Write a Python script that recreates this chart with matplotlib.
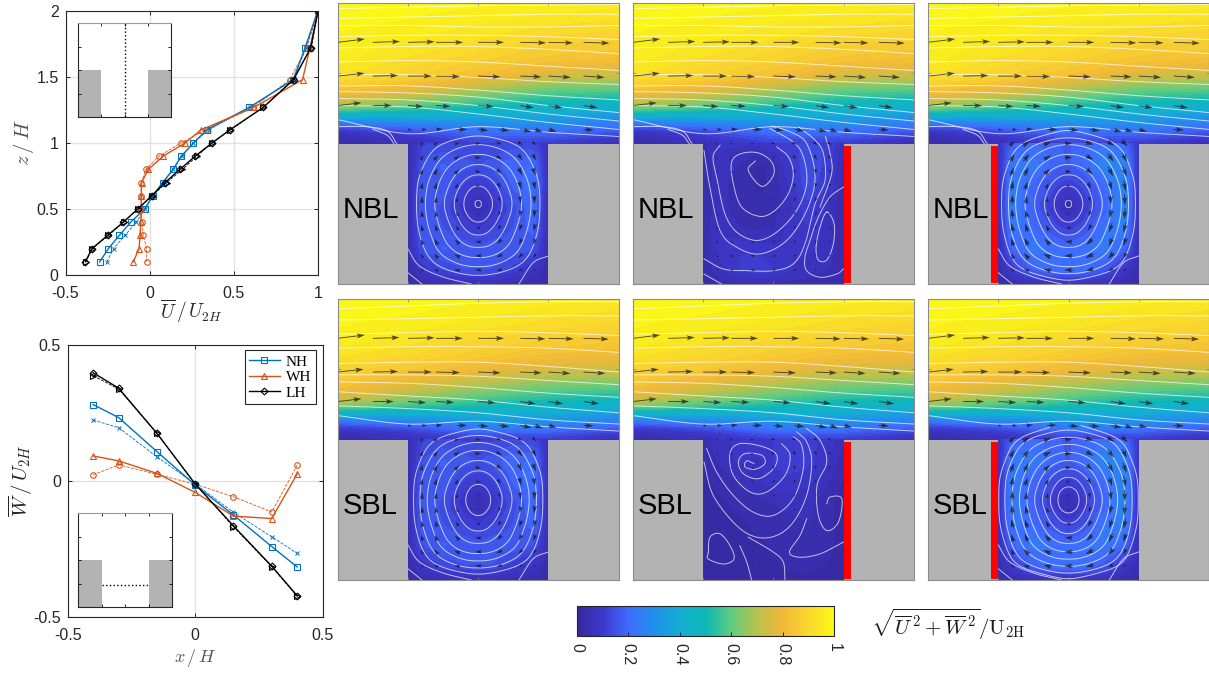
import numpy as np
import matplotlib
matplotlib.use('Agg')
import matplotlib.pyplot as plt
from matplotlib.colors import LinearSegmentedColormap
from matplotlib.patches import Rectangle

plt.rcParams['font.family'] = ['Liberation Sans', 'DejaVu Sans']
plt.rcParams['mathtext.fontset'] = 'cm'

W_PX, H_PX = 1209, 673

# ---- profiles ----
z_prof = [0.1, 0.2, 0.3, 0.4, 0.5, 0.6, 0.7, 0.8, 0.9, 1.0, 1.1, 1.27, 1.48, 1.72, 2.0]
u_nh = [-0.297, -0.245, -0.18, -0.113, -0.03, 0.018, 0.077, 0.139, 0.188, 0.26, 0.339, 0.592, 0.853, 0.923, 0.998]
u_nh_s = [-0.255, -0.214, -0.147, -0.08, -0.028, 0.02, 0.08, 0.14, 0.19, 0.26, 0.35, 0.595, 0.85, 0.93, 1.0]
u_wh = [-0.097, -0.063, -0.057, -0.053, -0.05, -0.05, -0.048, -0.008, 0.08, 0.21, 0.305, 0.62, 0.908, 0.952, 1.0]
u_wh_s = [-0.018, -0.018, -0.038, -0.045, -0.05, -0.05, -0.05, -0.022, 0.055, 0.186, 0.333, 0.616, 0.832, 0.932, 1.0]
u_lh = [-0.382, -0.343, -0.25, -0.157, -0.071, 0.012, 0.091, 0.18, 0.27, 0.37, 0.477, 0.675, 0.855, 0.956, 1.0]
u_lh_s = [-0.38, -0.34, -0.245, -0.155, -0.07, 0.015, 0.1, 0.195, 0.28, 0.37, 0.48, 0.675, 0.85, 0.96, 1.0]

x_prof = [-0.4, -0.3, -0.15, 0, 0.15, 0.3, 0.4]
w_nh = [0.281, 0.233, 0.108, -0.015, -0.125, -0.241, -0.316]
w_nh_s = [0.224, 0.196, 0.089, -0.011, -0.115, -0.205, -0.266]
w_wh = [0.092, 0.074, 0.028, -0.042, -0.129, -0.138, 0.026]
w_wh_s = [0.023, 0.059, 0.025, -0.012, -0.058, -0.114, 0.058]
w_lh = [0.398, 0.341, 0.175, -0.011, -0.165, -0.313, -0.422]
w_lh_s = [0.387, 0.338, 0.175, -0.011, -0.168, -0.315, -0.424]

# ---- speed above the roof ----
x_top = [-1, -0.5, 0, 0.5, 1]
z_top = [1.0, 1.05, 1.1, 1.2, 1.27, 1.38, 1.48, 1.6, 1.72, 1.85, 2.0]
speed_top_nbl = [
    [0.03, 0.05, 0.11, 0.10, 0.05],
    [0.04, 0.09, 0.17, 0.16, 0.10],
    [0.09, 0.15, 0.23, 0.23, 0.18],
    [0.42, 0.42, 0.40, 0.38, 0.32],
    [0.68, 0.60, 0.52, 0.47, 0.44],
    [0.84, 0.78, 0.68, 0.60, 0.58],
    [0.93, 0.88, 0.82, 0.74, 0.72],
    [0.96, 0.92, 0.88, 0.84, 0.82],
    [0.97, 0.95, 0.92, 0.88, 0.87],
    [0.98, 0.97, 0.95, 0.93, 0.91],
    [1.00, 0.99, 0.98, 0.97, 0.96],
]
speed_top_sbl = [
    [0.03, 0.05, 0.10, 0.10, 0.05],
    [0.05, 0.09, 0.18, 0.17, 0.11],
    [0.12, 0.18, 0.26, 0.26, 0.20],
    [0.50, 0.46, 0.44, 0.42, 0.36],
    [0.72, 0.62, 0.55, 0.50, 0.47],
    [0.84, 0.76, 0.68, 0.62, 0.60],
    [0.88, 0.84, 0.78, 0.73, 0.72],
    [0.93, 0.90, 0.86, 0.82, 0.80],
    [0.97, 0.94, 0.90, 0.88, 0.86],
    [0.98, 0.97, 0.95, 0.92, 0.90],
    [1.00, 0.99, 0.98, 0.96, 0.95],
]

# ---- speed inside the canyon ----
x_can = [-0.5, -0.4, -0.25, -0.1, 0, 0.1, 0.25, 0.4, 0.5]
z_can = [0, 0.1, 0.25, 0.4, 0.55, 0.7, 0.85, 1.0]
speed_nh = [
    [0.02, 0.03, 0.04, 0.04, 0.04, 0.04, 0.04, 0.03, 0.02],
    [0.03, 0.08, 0.13, 0.15, 0.15, 0.15, 0.11, 0.07, 0.03],
    [0.03, 0.15, 0.18, 0.17, 0.16, 0.17, 0.17, 0.15, 0.03],
    [0.03, 0.17, 0.15, 0.12, 0.10, 0.12, 0.15, 0.19, 0.04],
    [0.03, 0.18, 0.14, 0.08, 0.03, 0.08, 0.14, 0.20, 0.04],
    [0.03, 0.17, 0.17, 0.12, 0.10, 0.12, 0.18, 0.22, 0.05],
    [0.03, 0.15, 0.18, 0.16, 0.15, 0.16, 0.20, 0.20, 0.05],
    [0.04, 0.12, 0.13, 0.12, 0.12, 0.12, 0.13, 0.13, 0.06],
]
speed_wall_right = [
    [0.02, 0.03, 0.04, 0.04, 0.04, 0.04, 0.04, 0.03, 0.02],
    [0.03, 0.06, 0.10, 0.12, 0.10, 0.08, 0.06, 0.05, 0.03],
    [0.03, 0.08, 0.10, 0.09, 0.08, 0.08, 0.08, 0.06, 0.03],
    [0.03, 0.07, 0.05, 0.04, 0.05, 0.08, 0.10, 0.06, 0.03],
    [0.03, 0.06, 0.04, 0.03, 0.03, 0.06, 0.12, 0.06, 0.03],
    [0.03, 0.06, 0.04, 0.02, 0.03, 0.07, 0.15, 0.09, 0.03],
    [0.03, 0.06, 0.05, 0.02, 0.03, 0.09, 0.15, 0.11, 0.04],
    [0.04, 0.08, 0.08, 0.08, 0.10, 0.12, 0.13, 0.12, 0.06],
]
speed_lh = [
    [0.02, 0.03, 0.05, 0.05, 0.05, 0.05, 0.05, 0.03, 0.02],
    [0.03, 0.10, 0.18, 0.22, 0.22, 0.22, 0.16, 0.08, 0.03],
    [0.04, 0.19, 0.24, 0.22, 0.20, 0.22, 0.24, 0.19, 0.04],
    [0.05, 0.24, 0.20, 0.14, 0.11, 0.14, 0.22, 0.26, 0.05],
    [0.05, 0.26, 0.17, 0.09, 0.03, 0.09, 0.18, 0.28, 0.05],
    [0.05, 0.25, 0.19, 0.13, 0.10, 0.13, 0.20, 0.28, 0.06],
    [0.05, 0.24, 0.24, 0.19, 0.17, 0.20, 0.27, 0.27, 0.07],
    [0.07, 0.18, 0.20, 0.18, 0.17, 0.19, 0.22, 0.20, 0.08],
]
speed_wall_right_s = [
    [0.01, 0.01, 0.01, 0.01, 0.01, 0.01, 0.01, 0.01, 0.01],
    [0.01, 0.02, 0.02, 0.02, 0.02, 0.03, 0.04, 0.02, 0.01],
    [0.01, 0.02, 0.02, 0.02, 0.03, 0.04, 0.05, 0.03, 0.01],
    [0.01, 0.02, 0.02, 0.03, 0.03, 0.04, 0.05, 0.03, 0.01],
    [0.01, 0.02, 0.03, 0.04, 0.05, 0.06, 0.06, 0.03, 0.01],
    [0.02, 0.03, 0.05, 0.07, 0.09, 0.09, 0.08, 0.05, 0.02],
    [0.02, 0.05, 0.08, 0.07, 0.10, 0.12, 0.11, 0.07, 0.03],
    [0.04, 0.07, 0.08, 0.09, 0.10, 0.11, 0.11, 0.09, 0.05],
]

# ---- stream function tables, loop number counted from the vortex centre ----
z_psi = [0, 0.1, 0.25, 0.42, 0.57, 0.72, 0.85, 1.0, 1.1]
psi_vortex = [
    [9.5, 9.0, 8.6, 8.2, 8.0, 8.2, 8.6, 9.0, 9.5],
    [8.6, 7.9, 7.1, 6.4, 6.3, 6.4, 7.1, 7.9, 8.6],
    [8.2, 7.2, 5.4, 4.2, 4.0, 4.2, 5.4, 7.2, 8.2],
    [8.0, 6.5, 4.6, 2.7, 2.0, 2.7, 4.6, 6.5, 8.0],
    [8.0, 6.3, 4.0, 1.8, 0.0, 1.8, 4.0, 6.3, 8.0],
    [8.0, 6.5, 4.6, 2.7, 2.0, 2.7, 4.6, 6.5, 8.0],
    [8.2, 7.2, 5.4, 4.2, 3.9, 4.2, 5.4, 7.2, 8.2],
    [8.6, 7.9, 6.9, 6.2, 6.0, 6.2, 6.9, 7.9, 8.6],
    [9.5, 9.0, 8.5, 8.0, 7.8, 8.0, 8.5, 9.0, 9.5],
]
psi_wake = [
    [6.0, 6.0, 6.0, 6.0, 6.0, 6.0, 6.0, 6.2, 6.4],
    [5.5, 5.2, 5.0, 4.8, 4.8, 5.0, 5.5, 6.4, 6.5],
    [5.0, 4.5, 3.8, 3.4, 3.5, 4.0, 5.2, 7.0, 6.6],
    [5.0, 4.0, 3.0, 2.3, 2.5, 3.2, 5.0, 6.8, 6.4],
    [5.0, 3.8, 2.2, 1.4, 1.5, 2.6, 4.5, 5.8, 6.0],
    [5.0, 3.5, 1.5, 0.6, 0.8, 2.0, 4.2, 5.5, 5.8],
    [5.0, 3.5, 1.2, 0.0, 0.6, 2.0, 4.2, 5.5, 5.8],
    [5.5, 4.5, 3.0, 2.5, 2.8, 3.6, 5.0, 6.0, 6.2],
    [7.0, 6.8, 6.5, 6.2, 6.3, 6.5, 6.8, 7.0, 7.2],
]
levels_nh_n = [1, 2, 3, 4, 5, 6, 7]
levels_lh_n = [1, 2, 3, 4, 5, 6, 6.8, 7.5]
levels_nh_s = [0.8, 1.8, 3, 4, 5, 5.8, 6.6, 7.3]
levels_lh_s = [0.9, 1.6, 2.4, 3.2, 4, 4.8, 5.6, 6.4, 7.2, 7.7]

# ---- streamlines above the roof, height at x_top ----
lines_top_nbl = [
    [1.96, 1.97, 1.98, 1.985, 1.99],
    [1.89, 1.90, 1.91, 1.92, 1.92],
    [1.84, 1.84, 1.83, 1.83, 1.84],
    [1.76, 1.77, 1.77, 1.76, 1.74],
    [1.68, 1.69, 1.69, 1.67, 1.64],
    [1.58, 1.59, 1.58, 1.55, 1.52],
    [1.49, 1.49, 1.47, 1.44, 1.42],
    [1.41, 1.41, 1.38, 1.34, 1.31],
    [1.37, 1.36, 1.33, 1.27, 1.22],
    [1.32, 1.31, 1.27, 1.21, 1.16],
    [1.27, 1.26, 1.21, 1.15, 1.10],
    [1.17, 1.07, 1.12, 1.08, 1.05],
]
lines_top_sbl = [
    [1.93, 1.95, 1.97, 1.98, 1.98],
    [1.85, 1.86, 1.87, 1.88, 1.88],
    [1.75, 1.76, 1.77, 1.76, 1.74],
    [1.65, 1.66, 1.66, 1.65, 1.62],
    [1.54, 1.55, 1.55, 1.52, 1.48],
    [1.46, 1.46, 1.45, 1.42, 1.39],
    [1.41, 1.40, 1.37, 1.33, 1.30],
    [1.34, 1.31, 1.28, 1.23, 1.19],
    [1.24, 1.22, 1.19, 1.14, 1.11],
    [1.17, 1.11, 1.13, 1.09, 1.06],
]

# short lines running into the roofs and the lower canyon corners
corner_lines = [
    [(-1, 1.12), (-0.8, 1.12), (-0.65, 1.09), (-0.58, 1.0)],
    [(-0.75, 1.1), (-0.65, 1.06), (-0.6, 1.0)],
    [(-0.5, 0.25), (-0.42, 0.13), (-0.25, 0.05), (-0.05, 0.0)],
    [(-0.5, 0.08), (-0.4, 0.0)],
    [(0.5, 0.2), (0.39, 0.15), (0.29, 0.0)],
]

# streamlines of the two wake panels
stream_wake_n = [
    [(-0.13, 0.876), (-0.18, 0.81), (-0.084, 0.695), (0, 0.774), (-0.013, 0.869), (-0.108, 0.933), (-0.227, 0.929),
     (-0.298, 0.869), (-0.286, 0.714), (-0.227, 0.548), (-0.096, 0.481), (0.011, 0.524), (0.106, 0.643),
     (0.141, 0.786), (0.106, 0.905), (0.023, 0.976)],
    [(-0.38, 0.988), (-0.43, 0.905), (-0.4, 0.738), (-0.346, 0.5), (-0.262, 0.369), (-0.12, 0.31), (0.023, 0.369),
     (0.165, 0.524), (0.236, 0.714), (0.213, 0.905), (0.141, 1.01), (-0.025, 1.107)],
    [(-0.495, 0.95), (-0.453, 0.69), (-0.38, 0.38), (-0.262, 0.262), (-0.096, 0.214), (0.094, 0.31), (0.236, 0.524),
     (0.296, 0.762), (0.236, 1.0), (0.118, 1.083), (-0.013, 1.124)],
    [(-0.495, 0.179), (-0.357, 0.107), (-0.191, 0.095), (0, 0.095), (0.141, 0.143), (0.224, 0.286), (0.296, 0.571),
     (0.367, 0.738), (0.355, 0.929), (0.296, 1.024), (0.177, 1.119)],
    [(-0.495, 0.071), (-0.37, 0)],
    [(0.497, 0.69), (0.402, 0.619), (0.319, 0.476), (0.26, 0.31), (0.224, 0.19), (0.236, 0.095), (0.331, 0.048),
     (0.45, 0.071), (0.497, 0.107)],
    [(0.37, 1.05), (0.402, 0.929), (0.414, 0.786), (0.331, 0.548)],
]
oval_wake_n = [(0.379, 0.512), (0.431, 0.429), (0.426, 0.286), (0.379, 0.171), (0.319, 0.171), (0.303, 0.262), (0.331, 0.405)]
stream_wake_s = [
    [(-0.139, 0.829), (-0.191, 0.848), (-0.203, 0.805), (-0.132, 0.788), (-0.061, 0.829), (-0.084, 0.888),
     (-0.203, 0.9), (-0.25, 0.84), (-0.215, 0.757), (-0.108, 0.721), (0, 0.793), (0.023, 0.888), (-0.072, 0.948),
     (-0.239, 0.971), (-0.31, 0.9), (-0.286, 0.745), (-0.167, 0.626), (-0.049, 0.626), (0.082, 0.745),
     (0.118, 0.888), (0.058, 0.971)],
    [(-0.476, 0.936), (-0.405, 0.769), (-0.286, 0.602), (-0.144, 0.483), (0, 0.46), (0.141, 0.579), (0.212, 0.793),
     (0.2, 0.96), (0.141, 1.02)],
    [(-0.495, 0.84), (-0.429, 0.602), (-0.263, 0.388), (-0.12, 0.305), (0.022, 0.317), (0.141, 0.412),
     (0.236, 0.602), (0.272, 0.84), (0.236, 0.983), (0.165, 1.055)],
    [(-0.18, 0.305), (0, 0.198), (0.07, 0.126), (0.082, 0)],
    [(-0.24, 0.245), (-0.19, 0.126), (-0.156, 0)],
    [(0.236, 0.436), (0.189, 0.317), (0.113, 0.198), (0.189, 0.162), (0.331, 0.186), (0.497, 0.269)],
    [(0.379, 0.543), (0.402, 0.59), (0.486, 0.579), (0.462, 0.412), (0.379, 0.352), (0.319, 0.46), (0.31, 0.674),
     (0.379, 0.84), (0.331, 0.995), (0.236, 1.079)],
]
oval_wake_s = [(-0.464, 0.198), (-0.452, 0.305), (-0.381, 0.329), (-0.31, 0.245), (-0.281, 0.15), (-0.357, 0.114), (-0.464, 0.15)]

# ---- arrows above the canyon ----
x_arrow = [-1, -0.75, -0.5, -0.3, 0, 0.3, 0.5, 0.75]
z_arrow = [1.27, 1.48, 1.72, 1.995]
u_arrow_nbl = [
    [0.85, 0.68, 0.55, 0.52, 0.56, 0.48, 0.50, 0.50],
    [0.96, 0.90, 0.85, 0.85, 0.80, 0.75, 0.80, 0.75],
    [0.97, 0.97, 0.95, 0.97, 0.92, 0.92, 0.88, 0.92],
    [0.98, 0.98, 0.97, 0.97, 0.96, 0.96, 0.95, 0.95],
]
u_arrow_sbl = [
    [0.85, 0.75, 0.65, 0.65, 0.62, 0.55, 0.52, 0.55],
    [0.92, 0.90, 0.85, 0.85, 0.80, 0.76, 0.78, 0.78],
    [0.97, 0.95, 0.95, 0.95, 0.92, 0.90, 0.90, 0.90],
    [0.98, 0.98, 0.97, 0.97, 0.96, 0.96, 0.95, 0.95],
]
w_arrow = [
    [0.10, 0.00, -0.04, -0.03, -0.04, -0.08, -0.08, -0.08],
    [0.10, 0.02, 0.00, -0.02, -0.03, -0.03, -0.05, -0.05],
    [0.12, 0.03, 0.02, 0.00, 0.00, -0.02, -0.02, -0.03],
    [0.12, 0.10, 0.10, 0.10, 0.10, 0.10, 0.10, 0.10],
]
x_arrow_low = [-0.5, -0.4, -0.3, -0.15, 0, 0.15, 0.3, 0.4, 0.5, 0.75]
z_arrow_low = 1.1
u_arrow_low = [0.14, 0.18, 0.24, 0.36, 0.36, 0.36, 0.40, 0.30, 0.30, 0.36]
w_arrow_low = [-0.02, 0.0, 0.02, 0.0, -0.04, -0.05, -0.08, -0.10, -0.08, -0.02]
x_arrow_can = [-0.4, -0.3, -0.15, 0, 0.15, 0.3, 0.4]
z_arrow_can = [0.1, 0.2, 0.3, 0.4, 0.5, 0.6, 0.7, 0.8, 0.9, 1.0]

# ---- colour scale, sampled off the colorbar ----
cmap_stops = [(0.21, 0.16, 0.62), (0.24, 0.22, 0.80), (0.25, 0.42, 1.00), (0.13, 0.56, 0.92), (0.08, 0.68, 0.83),
              (0.05, 0.72, 0.72), (0.38, 0.80, 0.50), (0.72, 0.76, 0.30), (0.95, 0.72, 0.22), (0.98, 0.84, 0.18),
              (0.98, 0.98, 0.08)]
cbar_ticks = [0, 0.2, 0.4, 0.6, 0.8, 1]
cbar_labels = ['0', '0.2', '0.4', '0.6', '0.8', '1']

BLUE = '#0072BD'
ORANGE = '#D95319'
GRID = '#e2e2e2'
BUILDING = '#b3b3b3'
DARK = '#262626'
cmap = LinearSegmentedColormap.from_list('flow', cmap_stops)


def px_axes(fig, left, top, right, bottom):
    return fig.add_axes([left / W_PX, 1 - bottom / H_PX, (right - left) / W_PX, (bottom - top) / H_PX])


def fine_grid(table, xs, zs, fx, fz, blur=7):
    rows = np.array([np.interp(fx, xs, r) for r in table])
    g = np.array([np.interp(fz, zs, rows[:, j]) for j in range(len(fx))]).T
    k = np.ones(blur) / blur
    pad = blur // 2
    g = np.pad(g, pad, mode='edge')
    g = np.apply_along_axis(lambda v: np.convolve(v, k, mode='same'), 0, g)
    g = np.apply_along_axis(lambda v: np.convolve(v, k, mode='same'), 1, g)
    return g[pad:-pad, pad:-pad]


def smooth_line(pts, closed=False, n=12):
    # Catmull-Rom through the points
    p = np.array(pts, float)
    if closed:
        p = np.vstack([p[-1], p, p[0], p[1]])
    else:
        p = np.vstack([2 * p[0] - p[1], p, 2 * p[-1] - p[-2]])
    out = []
    t = np.linspace(0, 1, n, endpoint=False)[:, None]
    for i in range(1, len(p) - 2):
        a, b, c, d = p[i - 1:i + 3]
        out.append(0.5 * (2 * b + (c - a) * t + (2 * a - 5 * b + 4 * c - d) * t ** 2 + (3 * b - a - 3 * c + d) * t ** 3))
    out.append(p[-2:-1])
    return np.vstack(out)


def draw_inset(fig, box, vertical):
    ax = px_axes(fig, *box)
    ax.set_xlim(-1, 1)
    ax.set_ylim(0, 2)
    ax.add_patch(Rectangle((-1, 0), 0.5, 1, color=BUILDING, lw=0))
    ax.add_patch(Rectangle((0.5, 0), 0.5, 1, color=BUILDING, lw=0))
    if vertical:
        ax.plot([0, 0], [0, 2], color='k', ls=':', lw=1)
    else:
        ax.plot([-0.5, 0.5], [0.48, 0.48], color='k', ls=':', lw=1)
    ax.set_xticks([-0.5, 0, 0.5])
    ax.set_yticks([0.5, 1, 1.5])
    ax.tick_params(direction='in', length=2, width=0.6, labelleft=False, labelbottom=False, top=True, right=True)
    for s in ax.spines.values():
        s.set_linewidth(0.8)
        s.set_color(DARK)
    ax.spines['top'].set_color('#999999')


def style_profile(ax):
    ax.grid(True, color=GRID, lw=1)
    ax.set_axisbelow(True)
    ax.tick_params(direction='in', length=3, width=0.7, top=True, right=True, labelsize=11.5, colors=DARK)
    ax.tick_params(axis='x', pad=8)
    ax.tick_params(axis='y', pad=5)
    for s in ax.spines.values():
        s.set_linewidth(0.8)
        s.set_color(DARK)


def draw_panel(ax, speed_top, speed_can, psi, levels, lines_top, extra, ovals, u_arrow, label, wall):
    ax.set_xlim(-1, 1)
    ax.set_ylim(0, 2)
    levs = np.linspace(0, 1, 41)

    # colour field, above the roof and in the canyon
    fx = np.arange(-1, 1.001, 0.02)
    fz = np.arange(1, 2.001, 0.01)
    top_field = np.clip(fine_grid(speed_top, x_top, z_top, fx, fz), 0, 1)
    ax.contourf(fx, fz, top_field, levels=levs, cmap=cmap, vmin=0, vmax=1, zorder=1)
    cx = np.arange(-0.5, 0.501, 0.01)
    cz = np.arange(0, 1.001, 0.01)
    can_field = fine_grid(speed_can, x_can, z_can, cx, cz, blur=5)
    ax.contourf(cx, cz, can_field, levels=levs, cmap=cmap, vmin=0, vmax=1, zorder=1)

    # streamlines
    white = dict(color='white', lw=0.7, alpha=0.7, zorder=2)
    for row in lines_top:
        s = smooth_line(list(zip(x_top, row)))
        ax.plot(s[:, 0], s[:, 1], **white)
    pz = np.arange(0, 1.101, 0.01)
    psi_field = fine_grid(psi, x_can, z_psi, cx, pz, blur=13)
    if levels:
        ax.contour(cx, pz, psi_field, levels=levels, colors='white', linewidths=0.7, alpha=0.7, zorder=2)
    for pts in extra:
        s = smooth_line(pts)
        ax.plot(s[:, 0], s[:, 1], **white)
    for pts in ovals:
        s = smooth_line(pts, closed=True)
        ax.plot(s[:, 0], s[:, 1], **white)

    # arrows
    arrow = dict(angles='xy', scale_units='xy', scale=5, units='dots', width=0.9, headwidth=5.5, headlength=9,
                 headaxislength=7.5, color='#1a1a1a', alpha=0.75, zorder=3)
    xa, za = np.meshgrid(x_arrow, z_arrow)
    ax.quiver(xa, za, np.array(u_arrow), np.array(w_arrow), **arrow)
    ax.quiver(x_arrow_low, [z_arrow_low] * len(x_arrow_low), u_arrow_low, w_arrow_low, **arrow)
    dpsi_dz, dpsi_dx = np.gradient(psi_field, pz, cx)
    xs, zs, us, ws = [], [], [], []
    for zq in z_arrow_can:
        for xq in x_arrow_can:
            i = np.abs(cz - zq).argmin()
            j = np.abs(cx - xq).argmin()
            norm = np.hypot(dpsi_dx[i, j], dpsi_dz[i, j]) + 1e-6
            mag = can_field[i, j] * 1.5
            xs.append(xq)
            zs.append(zq)
            us.append(mag * dpsi_dz[i, j] / norm)
            ws.append(-mag * dpsi_dx[i, j] / norm)
    ax.quiver(xs, zs, us, ws, pivot='mid', **arrow)

    # buildings and wall
    ax.add_patch(Rectangle((-1, 0), 0.5, 1, color=BUILDING, lw=0, zorder=4))
    ax.add_patch(Rectangle((0.5, 0), 0.5, 1, color=BUILDING, lw=0, zorder=4))
    if wall == 'right':
        ax.add_patch(Rectangle((0.5, 0.01), 0.055, 0.97, color='#ff0000', lw=0, zorder=5))
    if wall == 'left':
        ax.add_patch(Rectangle((-0.555, 0.01), 0.055, 0.97, color='#ff0000', lw=0, zorder=5))
    ax.text(-0.965, 0.53, label, fontsize=21, color='black', ha='left', va='center', zorder=6)

    ax.set_xticks([-0.5, 0, 0.5])
    ax.set_yticks([0.5, 1, 1.5])
    ax.tick_params(direction='in', length=2, width=0.5, color='#808080', labelleft=False, labelbottom=False,
                   top=True, right=True)
    for s in ax.spines.values():
        s.set_linewidth(0.8)
        s.set_color('#8c8c8c')
        s.set_zorder(7)


fig = plt.figure(figsize=(W_PX / 100, H_PX / 100), dpi=100)
mk = dict(ms=4, mfc='none', mew=0.8)

# top left profile
ax = px_axes(fig, 65.5, 11, 318, 275)
ax.plot(u_nh_s, z_prof, color=BLUE, ls='--', lw=0.6, marker='x', ms=3, mew=0.7)
ax.plot(u_wh_s, z_prof, color=ORANGE, ls='--', lw=0.6, marker='o', **mk)
ax.plot(u_lh_s, z_prof, color='k', ls='--', lw=0.6, marker='>', **mk)
ax.plot(u_nh, z_prof, color=BLUE, lw=1, marker='s', **mk)
ax.plot(u_wh, z_prof, color=ORANGE, lw=1, marker='^', **mk)
ax.plot(u_lh, z_prof, color='k', lw=1, marker='D', ms=3.5, mfc='none', mew=0.8)
ax.set_xlim(-0.5, 1)
ax.set_ylim(0, 2)
ax.set_xticks([-0.5, 0, 0.5, 1])
ax.set_xticklabels(['-0.5', '0', '0.5', '1'])
ax.set_yticks([0, 0.5, 1, 1.5, 2])
ax.set_yticklabels(['0', '0.5', '1', '1.5', '2'])
style_profile(ax)
ax.set_xlabel(r'$\overline{U}\,/\,U_{2H}$', fontsize=14, color=DARK, labelpad=-3)
ax.set_ylabel(r'$z\,/\,H$', fontsize=15, color='#555555', labelpad=0)
draw_inset(fig, (77.7, 23.3, 171.3, 117.3), True)

# bottom left profile
ax = px_axes(fig, 67.7, 345, 322.7, 617)
ax.plot(x_prof, w_nh_s, color=BLUE, ls='--', lw=0.6, marker='x', ms=3, mew=0.7)
ax.plot(x_prof, w_wh_s, color=ORANGE, ls='--', lw=0.6, marker='o', **mk)
ax.plot(x_prof, w_lh_s, color='k', ls='--', lw=0.6, marker='>', **mk)
h1, = ax.plot(x_prof, w_nh, color=BLUE, lw=1, marker='s', label='NH', **mk)
h2, = ax.plot(x_prof, w_wh, color=ORANGE, lw=1, marker='^', label='WH', **mk)
h3, = ax.plot(x_prof, w_lh, color='k', lw=1, marker='D', ms=3.5, mfc='none', mew=0.8, label='LH')
ax.set_xlim(-0.5, 0.5)
ax.set_ylim(-0.5, 0.5)
ax.set_xticks([-0.5, 0, 0.5])
ax.set_xticklabels(['-0.5', '0', '0.5'])
ax.set_yticks([-0.5, 0, 0.5])
ax.set_yticklabels(['-0.5', '0', '0.5'])
style_profile(ax)
ax.set_xlabel(r'$x\,/\,H$', fontsize=13, color='#555555', labelpad=3)
ax.set_ylabel(r'$\overline{W}\,/\,U_{2H}$', fontsize=15, color=DARK, labelpad=-1)
leg = ax.legend(handles=[h1, h2, h3], loc='upper right', bbox_to_anchor=(0.973, 0.98), fancybox=False,
                framealpha=1, edgecolor=DARK, borderaxespad=0, handlelength=2.0, handletextpad=0.4,
                labelspacing=0.12, borderpad=0.3, prop={'family': 'Liberation Serif', 'size': 11})
leg.get_frame().set_linewidth(0.8)
draw_inset(fig, (78.3, 513.3, 172.3, 607.3), False)

# flow field panels
col_px = [(337.7, 618.7), (633, 914), (928, 1209)]
row_px = [(3, 284), (299, 580)]

ax = px_axes(fig, col_px[0][0], row_px[0][0], col_px[0][1], row_px[0][1])
draw_panel(ax, speed_top_nbl, speed_nh, psi_vortex, levels_nh_n, lines_top_nbl, corner_lines, [], u_arrow_nbl, 'NBL', None)
ax = px_axes(fig, col_px[1][0], row_px[0][0], col_px[1][1], row_px[0][1])
draw_panel(ax, speed_top_nbl, speed_wall_right, psi_wake, [], lines_top_nbl, corner_lines[:2] + stream_wake_n, [oval_wake_n],
           u_arrow_nbl, 'NBL', 'right')
ax = px_axes(fig, col_px[2][0], row_px[0][0], col_px[2][1], row_px[0][1])
draw_panel(ax, speed_top_nbl, speed_lh, psi_vortex, levels_lh_n, lines_top_nbl, corner_lines, [], u_arrow_nbl, 'NBL', 'left')
ax = px_axes(fig, col_px[0][0], row_px[1][0], col_px[0][1], row_px[1][1])
draw_panel(ax, speed_top_sbl, speed_nh, psi_vortex, levels_nh_s, lines_top_sbl, corner_lines[2:], [], u_arrow_sbl, 'SBL', None)
ax = px_axes(fig, col_px[1][0], row_px[1][0], col_px[1][1], row_px[1][1])
draw_panel(ax, speed_top_sbl, speed_wall_right_s, psi_wake, [], lines_top_sbl, stream_wake_s, [oval_wake_s], u_arrow_sbl, 'SBL', 'right')
ax = px_axes(fig, col_px[2][0], row_px[1][0], col_px[2][1], row_px[1][1])
draw_panel(ax, speed_top_sbl, speed_lh, psi_vortex, levels_lh_s, lines_top_sbl, corner_lines[2:], [], u_arrow_sbl, 'SBL', 'left')

# colorbar
cax = px_axes(fig, 576.7, 606, 834.3, 635.7)
sm = plt.cm.ScalarMappable(cmap=cmap, norm=plt.Normalize(0, 1))
cb = fig.colorbar(sm, cax=cax, orientation='horizontal')
cb.set_ticks(cbar_ticks)
cb.set_ticklabels(cbar_labels)
cax.tick_params(direction='in', length=3, width=0.7, labelsize=11.5, colors=DARK, labelrotation=-90, pad=5)
cb.outline.set_linewidth(0.8)
cb.outline.set_edgecolor(DARK)
fig.text(871 / W_PX, 1 - 624 / H_PX, r'$\sqrt{\overline{U}^{\,2}+\overline{W}^{\,2}}/\mathrm{U}_{\mathrm{2H}}$',
         fontsize=15, color='#1a1a1a', ha='left', va='center')

fig.savefig('out.png', dpi=100)
